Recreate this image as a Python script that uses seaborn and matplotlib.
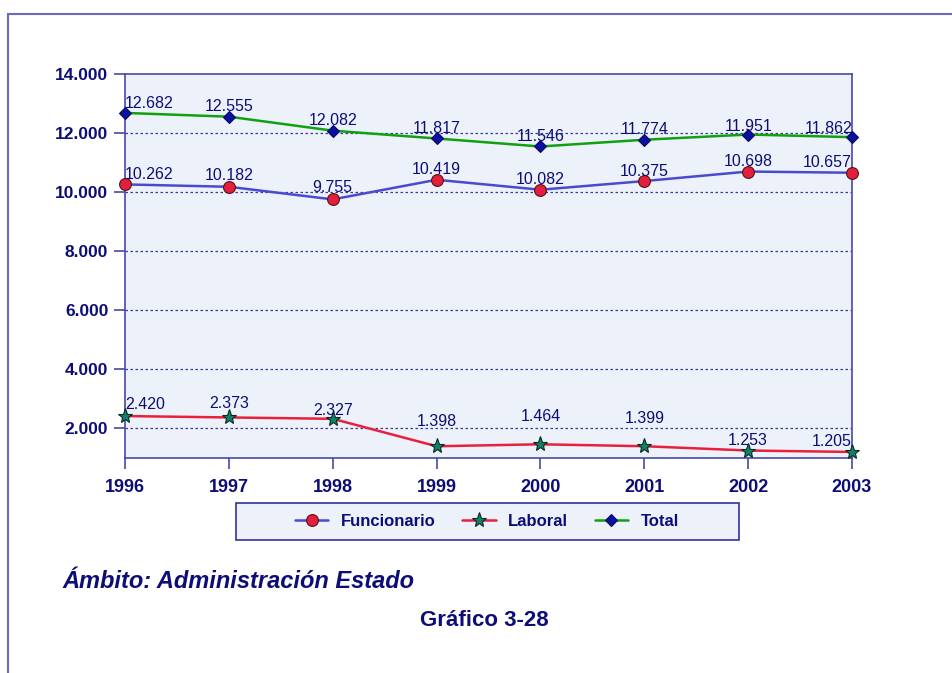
import matplotlib
matplotlib.use("Agg")
import matplotlib.pyplot as plt
from matplotlib.lines import Line2D
from matplotlib.patches import Rectangle
import pandas as pd
import seaborn as sns

# ---- data ----
years = [1996, 1997, 1998, 1999, 2000, 2001, 2002, 2003]
funcionario = [10262, 10182, 9755, 10419, 10082, 10375, 10698, 10657]
laboral = [2420, 2373, 2327, 1398, 1464, 1399, 1253, 1205]
total = [12682, 12555, 12082, 11817, 11546, 11774, 11951, 11862]
series_names = ["Funcionario", "Laboral", "Total"]
y_ticks = [2000, 4000, 6000, 8000, 10000, 12000, 14000]
subtitle = "Ámbito: Administración Estado"
caption = "Gráfico 3-28"

# label vertical offsets (pixels above point)
lab_dy_func = [10, 11, 12, 10, 10, 10, 10, 10]
lab_dy_lab = [12, 14, 8, 25, 28, 28, 10, 10]
lab_dy_tot = [9, 10, 10, 10, 10, 10, 8, 9]

sns.set_style("white")
plt.rcParams["font.family"] = ["Liberation Sans", "DejaVu Sans"]

NAVY = "#0d0d78"
AXC = "#4848a8"
BG = "#edf2fa"

fig = plt.figure(figsize=(9.52, 6.73), dpi=100)
fig.patch.set_facecolor("white")
ax = fig.add_axes([125 / 952, 1 - 458 / 673, (852 - 125) / 952, (458 - 74) / 673])
ax.set_facecolor(BG)

df = pd.DataFrame({"year": years, "Funcionario": funcionario,
                   "Laboral": laboral, "Total": total})

styles = {
    "Funcionario": dict(color="#4a4ad0", marker="o", markersize=8.5,
                        markerfacecolor="#e0203c", markeredgecolor="#5a1010"),
    "Laboral": dict(color="#e8203c", marker="*", markersize=11,
                    markerfacecolor="#10806a", markeredgecolor="#0a2a20"),
    "Total": dict(color="#10a010", marker="D", markersize=6.5,
                  markerfacecolor="#0a10a0", markeredgecolor="#0a0a60"),
}
for name in series_names:
    st = styles[name]
    sns.lineplot(data=df, x="year", y=name, ax=ax, linewidth=1.8,
                 markeredgewidth=0.8, clip_on=False, zorder=5, label=name, **st)

ax.set_xlim(years[0], years[-1])
ax.set_ylim(1000, 14000)
ax.set_yticks(y_ticks)
ax.set_yticklabels([f"{v:,}".replace(",", ".") for v in y_ticks],
                   fontsize=12.5, fontweight="bold", color=NAVY)
ax.set_xticks(years)
ax.set_xticklabels([str(y) for y in years], fontsize=13, fontweight="bold", color=NAVY)
ax.set_xlabel("")
ax.set_ylabel("")
ax.tick_params(axis="both", direction="out", length=8, width=1.2, color=AXC,
               left=True, bottom=True, pad=4)
ax.tick_params(axis="x", pad=7)
for sp in ax.spines.values():
    sp.set_color(AXC)
    sp.set_linewidth(1.2)
ax.grid(False)
for v in y_ticks[:-1]:
    ax.axhline(v, color="#3a3a9a", linewidth=0.9, linestyle=(0, (2, 2)), zorder=1)

def labels(vals, dys):
    n = len(vals)
    for i, (x, v, dy) in enumerate(zip(years, vals, dys)):
        ha = "left" if i == 0 else ("right" if i == n - 1 else "center")
        ax.annotate(f"{v:,}".replace(",", "."), (x, v), xytext=(0, dy),
                    textcoords="offset pixels", ha=ha, va="center",
                    fontsize=11.5, color=NAVY, zorder=6, annotation_clip=False)

labels(funcionario, lab_dy_func)
labels(laboral, lab_dy_lab)
labels(total, lab_dy_tot)

# legend box
fig.add_artist(Rectangle((236 / 952, 1 - 540 / 673), 503 / 952, 37 / 673,
                         transform=fig.transFigure, facecolor=BG,
                         edgecolor="#3030a0", linewidth=1.2, zorder=1))
handles, labs = ax.get_legend_handles_labels()
if ax.legend_:
    ax.legend_.remove()
leg = fig.legend(handles, labs, loc="center", ncol=3,
                 bbox_to_anchor=(487 / 952, 1 - 521 / 673),
                 frameon=False, handlelength=2.0, columnspacing=1.6,
                 handletextpad=0.75, borderaxespad=0, fontsize=12)
leg.set_zorder(3)
for t in leg.get_texts():
    t.set_color(NAVY)
    t.set_fontweight("bold")

fig.text(62 / 952, 1 - 581 / 673, subtitle, fontsize=17, fontweight="bold",
         fontstyle="italic", color=NAVY, ha="left", va="center")
fig.text(484 / 952, 1 - 620 / 673, caption, fontsize=16, fontweight="bold",
         color=NAVY, ha="center", va="center")

fig.add_artist(Line2D([8 / 952, 8 / 952], [0, 1 - 14 / 673], transform=fig.transFigure,
                      color="#6a6abf", linewidth=1.5))
fig.add_artist(Line2D([8 / 952, 1], [1 - 14 / 673, 1 - 14 / 673], transform=fig.transFigure,
                      color="#6a6abf", linewidth=1.5))

fig.savefig("out.png", dpi=100)
